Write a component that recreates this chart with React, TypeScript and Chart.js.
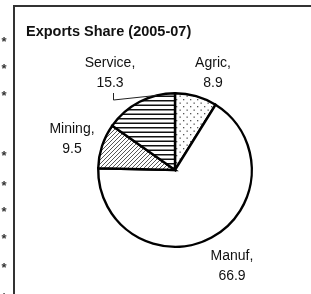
import React, { useEffect, useRef } from "react";
import { Chart, registerables } from "chart.js";

Chart.register(...registerables);

const categories = ["Agric", "Manuf", "Mining", "Service"];
const values = [8.9, 66.9, 9.5, 15.3];
const title = "Exports Share (2005-07)";

// label layout (offset from pie centre, px) – layout only
const labelOffsets: [number, number][] = [
  [38, -97],
  [57, 96],
  [-103, -31],
  [-65, -97],
];
const starYs = [39, 66, 93, 153, 183, 209, 236, 265, 295];

function makePattern(kind: string): CanvasPattern | string {
  const c = document.createElement("canvas");
  const ctx = c.getContext("2d")!;
  if (kind === "dots") {
    c.width = 7; c.height = 7;
    ctx.fillStyle = "#fff"; ctx.fillRect(0, 0, 7, 7);
    ctx.fillStyle = "#555";
    ctx.fillRect(1, 1, 1.3, 1.3);
    ctx.fillRect(4.5, 4.5, 1.3, 1.3);
  } else if (kind === "hlines") {
    c.width = 9; c.height = 9;
    ctx.fillStyle = "#fff"; ctx.fillRect(0, 0, 9, 9);
    ctx.fillStyle = "#111";
    ctx.fillRect(0, 1, 9, 1.5);
    ctx.fillRect(0, 5.5, 9, 1.5);
  } else if (kind === "diag") {
    c.width = 4; c.height = 4;
    ctx.fillStyle = "#fff"; ctx.fillRect(0, 0, 4, 4);
    ctx.strokeStyle = "#444";
    ctx.lineWidth = 0.9;
    ctx.beginPath();
    ctx.moveTo(-1, 5); ctx.lineTo(5, -1);
    ctx.moveTo(-1, 1); ctx.lineTo(1, -1);
    ctx.moveTo(3, 5); ctx.lineTo(5, 3);
    ctx.stroke();
  } else {
    return "#ffffff";
  }
  return ctx.createPattern(c, "repeat")!;
}

export default function App() {
  const ref = useRef<HTMLCanvasElement>(null);
  useEffect(() => {
    document.body.style.margin = "0";
    document.body.style.overflow = "hidden";
    const canvas = ref.current!;
    const fills = [makePattern("dots"), makePattern("none"), makePattern("diag"), makePattern("hlines")];
    const decor = {
      id: "decor",
      beforeDraw(chart: any) {
        const ctx = chart.ctx;
        ctx.save();
        ctx.fillStyle = "#fff";
        ctx.fillRect(0, 0, chart.width, chart.height);
        ctx.fillStyle = "#333";
        ctx.fillRect(13, 5, 2, 289);
        ctx.fillRect(13, 5, 298, 2);
        ctx.font = "bold 13px 'Liberation Sans', Arial, sans-serif";
        ctx.textAlign = "center";
        ctx.textBaseline = "middle";
        starYs.forEach((y) => ctx.fillText("*", 4, y + 3));
        ctx.fillStyle = "#111";
        ctx.font = "bold 14.5px 'Liberation Sans', Arial, sans-serif";
        ctx.textAlign = "left";
        ctx.fillText(title, 26, 32);
        ctx.beginPath();
        ctx.restore();
      },
      afterDraw(chart: any) {
        const ctx = chart.ctx;
        const arcs = chart.getDatasetMeta(0).data;
        const cx = arcs[0].x, cy = arcs[0].y;
        ctx.save();
        ctx.fillStyle = "#111";
        ctx.font = "14px 'Liberation Sans', Arial, sans-serif";
        ctx.textAlign = "center";
        ctx.textBaseline = "middle";
        categories.forEach((cat, i) => {
          const [dx, dy] = labelOffsets[i];
          ctx.fillText(cat + ",", cx + dx, cy + dy - 10);
          ctx.fillText(String(values[i]), cx + dx, cy + dy + 10);
        });
        // leader line for Service
        const a = arcs[3];
        const r = a.outerRadius;
        const ang = -Math.PI / 2 + (2 * Math.PI * (values[0] + values[1] + values[2] + values[3] * 0.75)) / values.reduce((s, v) => s + v, 0);
        const ex = cx + Math.cos(ang) * r;
        const ey = cy + Math.sin(ang) * r;
        const [sdx, sdy] = labelOffsets[3];
        ctx.strokeStyle = "#222";
        ctx.lineWidth = 1;
        ctx.beginPath();
        ctx.moveTo(cx + sdx + 3.5, cy + sdy + 20);
        ctx.lineTo(cx + sdx + 3.5, cy + sdy + 27);
        ctx.lineTo(ex, ey);
        ctx.stroke();
        ctx.beginPath();
        ctx.restore();
      },
    };
    const chart = new Chart(canvas, {
      type: "pie",
      data: {
        labels: categories,
        datasets: [
          {
            data: values,
            backgroundColor: fills as any,
            borderColor: "#000",
            borderWidth: 2.4,
            borderJoinStyle: "miter",
          },
        ],
      },
      options: {
        animation: false,
        responsive: false,
        devicePixelRatio: 1,
        layout: { padding: { left: 97, right: 58, top: 92, bottom: 46 } },
        plugins: { legend: { display: false }, tooltip: { enabled: false }, title: { display: false } },
      },
      plugins: [decor],
    });
    return () => chart.destroy();
  }, []);
  return (
    <div style={{ position: "absolute", left: 0, top: 0, width: 311, height: 294, overflow: "hidden" }}>
      <canvas ref={ref} width={311} height={294} style={{ width: 311, height: 294, display: "block" }} />
    </div>
  );
}
